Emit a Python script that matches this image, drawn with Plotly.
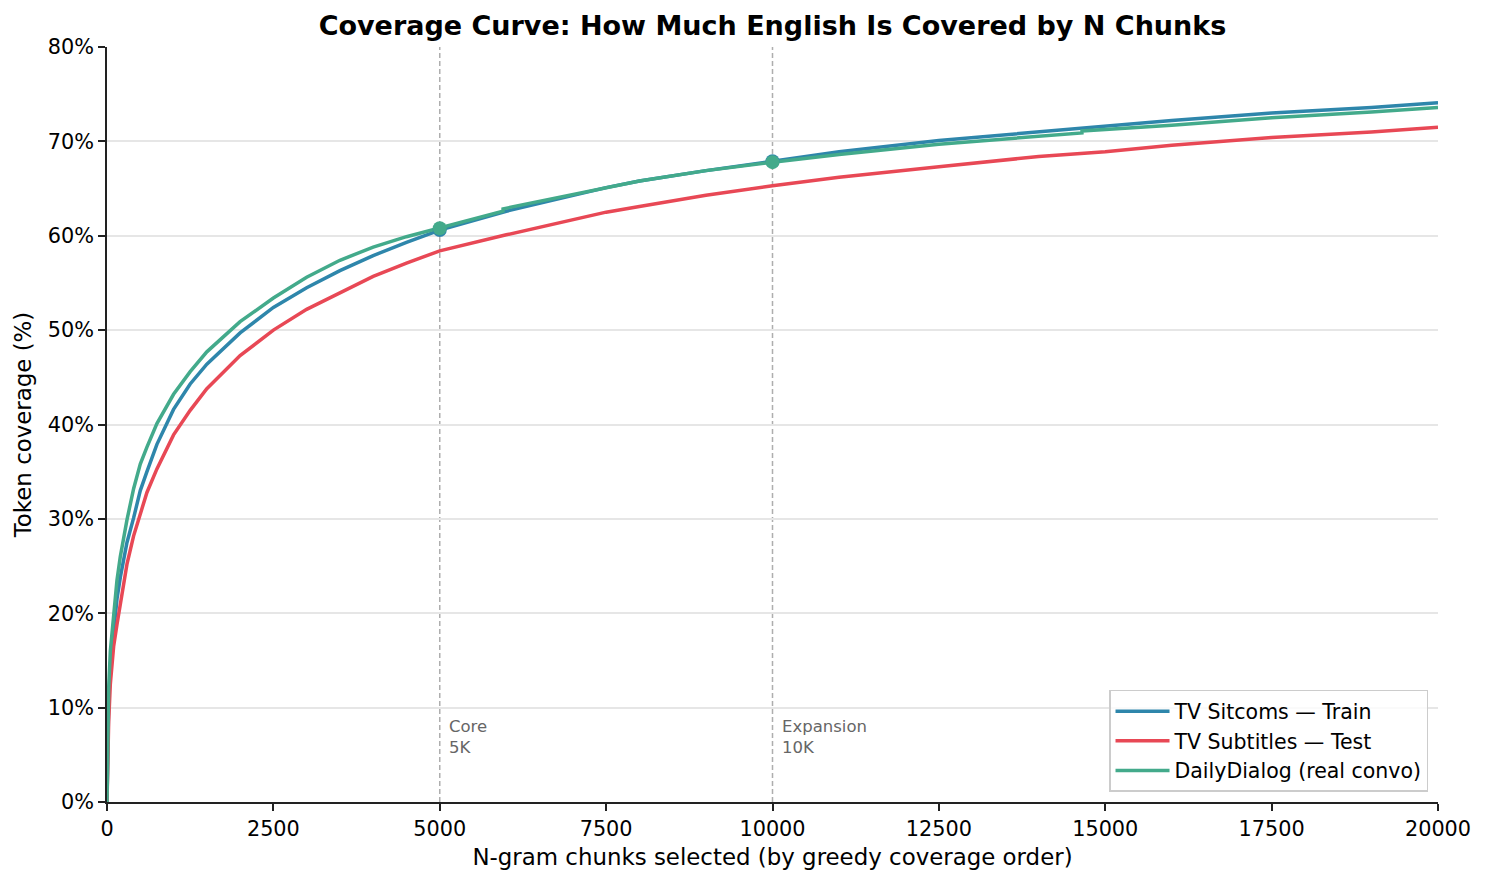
import plotly.graph_objects as go

# ---- data ----
train_x = [0, 10, 25, 50, 100, 150, 200, 250, 300, 400, 500, 600, 750, 1000, 1250, 1500, 2000, 2500, 3000,
           3500, 4000, 4500, 5000, 6000, 7000, 7500, 8000, 9000, 10000, 11000, 12500, 14000, 15000, 16000,
           17500, 19000, 20000]
train_y = [0, 5.5, 10.5, 14.5, 18.3, 21.5, 23.8, 25.8, 27.5, 30.1, 33.0, 35.0, 37.9, 41.6, 44.3, 46.4, 49.7,
           52.4, 54.5, 56.3, 57.9, 59.3, 60.6, 62.6, 64.3, 65.1, 65.8, 66.9, 67.9, 68.9, 70.1, 71.0, 71.6,
           72.2, 73.0, 73.6, 74.1]

test_x = [0, 10, 25, 50, 100, 150, 200, 250, 300, 400, 500, 600, 750, 1000, 1250, 1500, 2000, 2500, 3000,
          3500, 4000, 4500, 5000, 6000, 7000, 7500, 8000, 9000, 10000, 11000, 12500, 14000, 15000, 16000,
          17500, 19000, 20000]
test_y = [0, 4.0, 8.5, 12.5, 16.5, 18.8, 21.0, 23.3, 25.2, 28.2, 30.4, 32.8, 35.3, 38.9, 41.5, 43.8, 47.3,
          50.0, 52.2, 54.0, 55.7, 57.1, 58.4, 60.1, 61.7, 62.5, 63.1, 64.3, 65.3, 66.2, 67.3, 68.4, 68.9,
          69.6, 70.4, 71.0, 71.5]

dd_x = [0, 10, 25, 50, 100, 150, 200, 250, 300, 400, 500, 600, 750, 1000, 1250, 1500, 2000, 2500, 3000,
        3500, 4000, 4500, 5000, 5950, 5951, 7000, 7500, 8000, 9000, 10000, 11000, 12500, 14650, 14651,
        16000, 17500, 19000, 20000]
dd_y = [0, 6.5, 12.0, 16.0, 20.3, 23.5, 26.0, 28.2, 29.9, 33.2, 35.8, 37.6, 40.1, 43.2, 45.6, 47.7, 50.9,
        53.4, 55.6, 57.4, 58.8, 59.9, 60.8, 62.6, 62.85, 64.4, 65.1, 65.8, 66.9, 67.8, 68.6, 69.7, 70.9,
        71.1, 71.7, 72.5, 73.1, 73.6]

milestones = [5000, 10000]
milestone_labels = ["Core<br>5K", "Expansion<br>10K"]
train_marks = [60.6, 67.9]
dd_marks = [60.8, 67.8]

x_ticks = [0, 2500, 5000, 7500, 10000, 12500, 15000, 17500, 20000]
y_ticks = [0, 10, 20, 30, 40, 50, 60, 70, 80]

names = ["TV Sitcoms — Train", "TV Subtitles — Test", "DailyDialog (real convo)"]
colors = ["#2E86AB", "#E84855", "#43AA8B"]

FONT = "DejaVu Sans"

fig = go.Figure()
fig.add_trace(go.Scatter(x=train_x, y=train_y, mode="lines", name=names[0],
                         line=dict(color=colors[0], width=3.5)))
fig.add_trace(go.Scatter(x=test_x, y=test_y, mode="lines", name=names[1],
                         line=dict(color=colors[1], width=3.5)))
fig.add_trace(go.Scatter(x=dd_x, y=dd_y, mode="lines", name=names[2],
                         line=dict(color=colors[2], width=3.5)))
fig.add_trace(go.Scatter(x=milestones, y=train_marks, mode="markers", showlegend=False,
                         marker=dict(color=colors[0], size=14)))
fig.add_trace(go.Scatter(x=milestones, y=dd_marks, mode="markers", showlegend=False,
                         marker=dict(color=colors[2], size=14)))

for m, lab in zip(milestones, milestone_labels):
    fig.add_shape(type="line", x0=m, x1=m, xref="x", y0=0, y1=1, yref="paper",
                  line=dict(color="rgba(140,140,140,0.7)", width=1.5, dash="5px,3px"), layer="below")
    fig.add_annotation(x=m, y=9.2, xref="x", yref="y", text=lab, showarrow=False,
                       xanchor="left", yanchor="top", align="left", xshift=7,
                       font=dict(family=FONT, size=16.5, color="#666666"))

fig.update_layout(
    width=1486, height=883,
    margin=dict(l=107, r=48, t=47, b=81),
    paper_bgcolor="white", plot_bgcolor="white",
    font=dict(family=FONT, size=20.8, color="black"),
    title=dict(text="<b>Coverage Curve: How Much English Is Covered by N Chunks</b>",
               x=(107 + 1438) / 2 / 1486, xanchor="center", y=1 - 26 / 883, yanchor="middle",
               xref="container", yref="container",
               font=dict(family=FONT, size=27, color="black")),
    legend=dict(x=0.9925, y=0.0135, xanchor="right", yanchor="bottom", itemwidth=54,
                bgcolor="rgba(255,255,255,0.8)", bordercolor="#cccccc", borderwidth=1.5,
                font=dict(family=FONT, size=20.5, color="black")),
    showlegend=True,
)
fig.update_xaxes(range=[0, 20000], tickvals=x_ticks, ticktext=[str(v) for v in x_ticks],
                 showgrid=False, zeroline=False, showline=True, linecolor="#222222", linewidth=1.7,
                 ticks="outside", ticklen=7, tickwidth=1.7, tickcolor="#222222",
                 tickfont=dict(family=FONT, size=20.8),
                 title=dict(text="N-gram chunks selected (by greedy coverage order)",
                            font=dict(family=FONT, size=22.9), standoff=9))
fig.update_yaxes(range=[0, 80], tickvals=y_ticks, ticktext=[f"{v}%" for v in y_ticks],
                 showgrid=True, gridcolor="#e6e6e6", gridwidth=1.5, zeroline=False,
                 showline=True, linecolor="#222222", linewidth=1.7,
                 ticks="outside", ticklen=7, tickwidth=1.7, tickcolor="#222222",
                 tickfont=dict(family=FONT, size=20.8),
                 title=dict(text="Token coverage (%)", font=dict(family=FONT, size=22.9), standoff=10))

fig.write_html("out.html")
